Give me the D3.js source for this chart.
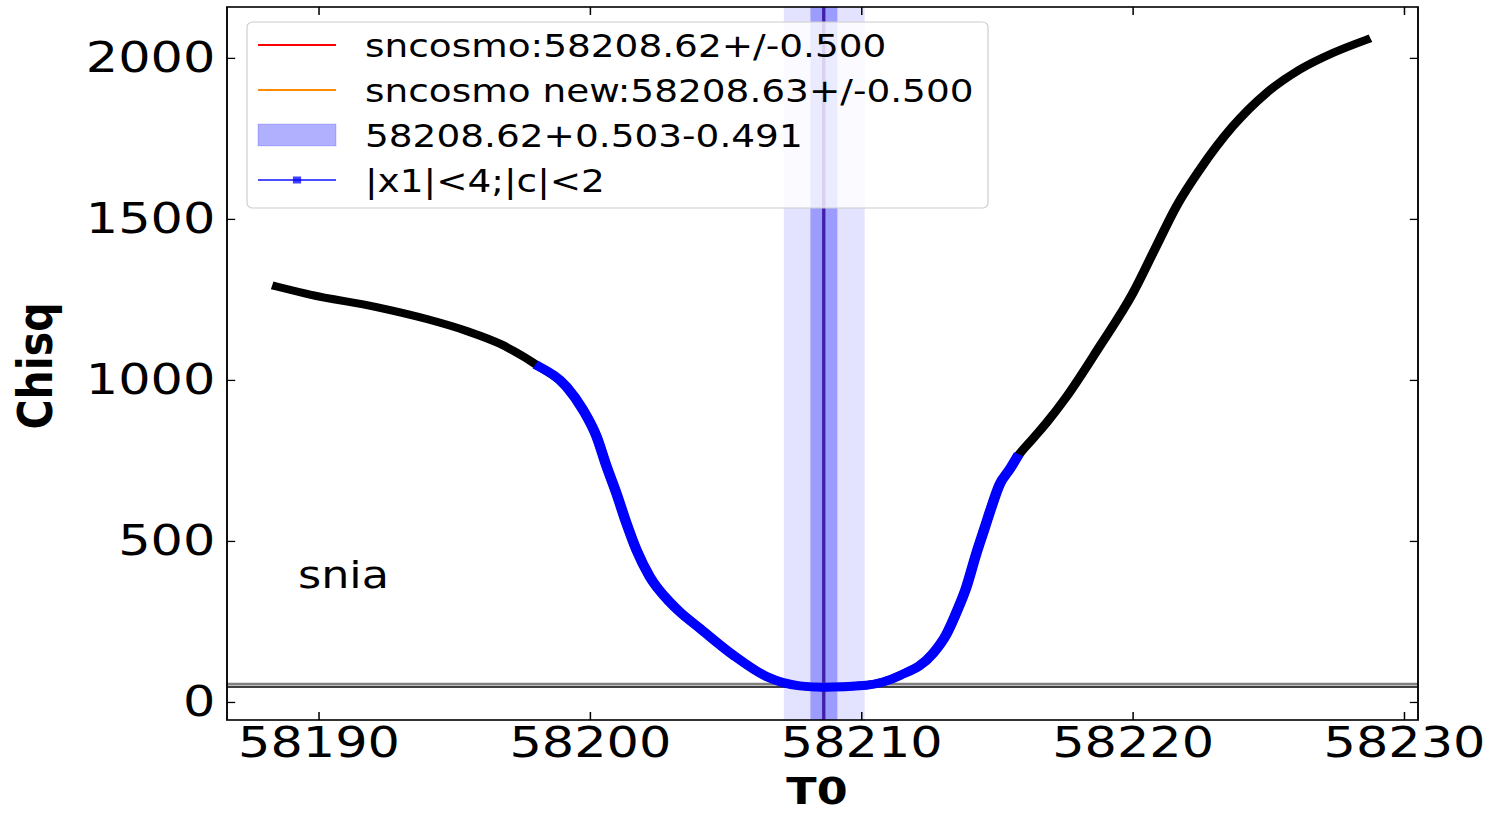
<!DOCTYPE html>
<html>
<head>
<meta charset="utf-8">
<script src="https://cdn.jsdelivr.net/npm/d3@7"></script>
<style>
  html, body { margin: 0; padding: 0; background: #fff; }
  svg text { font-family: "DejaVu Sans", sans-serif; }
</style>
</head>
<body>
<div class="canvas"></div>
<script>
// chisq scan values
const t0Values = [58188.46, 58189.69, 58192.14, 58193.99, 58195.46, 58196.69, 58198.16,
    58199.14, 58199.75, 58200.25, 58200.62, 58200.98, 58201.35, 58201.72, 58202.21,
    58202.95, 58203.31, 58204.05, 58205.28, 58206.51, 58207.73, 58208.59, 58210.19,
    58211.42, 58212.64, 58213.14, 58213.57, 58213.87, 58214.24, 58214.55, 58214.80,
    58215.10, 58215.47, 58215.72, 58216.33, 58216.82, 58217.56, 58218.78, 58220.01,
    58220.87, 58221.61, 58222.47, 58223.69, 58224.92, 58226.15, 58227.38, 58228.61];
const chisqValues = [1290, 1265, 1226, 1189, 1152, 1112, 1040,
    979, 907, 824, 731, 648, 555, 472, 389,
    310, 280, 229, 146, 79, 50, 46, 52,
    82, 150, 210, 290, 355, 460, 540, 605,
    675, 722, 757, 818, 866, 947, 1103, 1269,
    1414, 1538, 1652, 1787, 1890, 1963, 2015, 2056];

// points passing |x1|<4;|c|<2 lie in this T0 window
const cutWindow = [58198.16, 58215.72];

// fit results
const sncosmoT0 = 58208.62;
const sncosmoNewT0 = 58208.63;
const bandCenter = 58208.62;
const bandInner = [58208.129, 58209.123];
const bandOuter = [58207.15, 58210.13];
const chisqLines = [55.5, 46.5];

const xTicks = [58190, 58200, 58210, 58220, 58230];
const yTicks = [0, 500, 1000, 1500, 2000];

const legendLabels = ['sncosmo:58208.62+/-0.500', 'sncosmo new:58208.63+/-0.500',
    '58208.62+0.503-0.491', '|x1|<4;|c|<2'];

// whole figure is drawn a bit wider than tall
const SX = 1.17;
const dims = { width: 1493, height: 813 };
const frame = { left: 227 / SX, right: 1418 / SX, top: 7, bottom: 720 };

const svg = d3.select('.canvas')
    .append('svg')
    .attr('width', dims.width)
    .attr('height', dims.height);

const fig = svg.append('g')
    .attr('transform', `scale(${SX},1)`);

const x = d3.scaleLinear()
    .domain([58186.63, 58230.52])
    .range([frame.left, frame.right]);

const y = d3.scaleLinear()
    .domain([-56, 2158])
    .range([frame.bottom, frame.top]);

// fit lines
fig.append('line')
    .attr('x1', x(sncosmoT0)).attr('x2', x(sncosmoT0))
    .attr('y1', frame.top).attr('y2', frame.bottom)
    .attr('stroke', 'red').attr('stroke-width', 1.5);
fig.append('line')
    .attr('x1', x(sncosmoNewT0)).attr('x2', x(sncosmoNewT0))
    .attr('y1', frame.top).attr('y2', frame.bottom)
    .attr('stroke', 'darkorange').attr('stroke-width', 1.5);

// bands
fig.append('rect')
    .attr('x', x(bandOuter[0])).attr('width', x(bandOuter[1]) - x(bandOuter[0]))
    .attr('y', frame.top).attr('height', frame.bottom - frame.top)
    .attr('fill', 'blue').attr('fill-opacity', 0.11);
fig.append('rect')
    .attr('x', x(bandInner[0])).attr('width', x(bandInner[1]) - x(bandInner[0]))
    .attr('y', frame.top).attr('height', frame.bottom - frame.top)
    .attr('fill', 'blue').attr('fill-opacity', 0.31);
fig.append('line')
    .attr('x1', x(bandCenter)).attr('x2', x(bandCenter))
    .attr('y1', frame.top).attr('y2', frame.bottom)
    .attr('stroke', '#2a0fb0').attr('stroke-opacity', 0.75).attr('stroke-width', 3);

// horizontal chisq lines
fig.append('line')
    .attr('x1', frame.left).attr('x2', frame.right)
    .attr('y1', y(chisqLines[0])).attr('y2', y(chisqLines[0]))
    .attr('stroke', 'grey').attr('stroke-width', 2.7);
fig.append('line')
    .attr('x1', frame.left).attr('x2', frame.right)
    .attr('y1', y(chisqLines[1])).attr('y2', y(chisqLines[1]))
    .attr('stroke', 'black').attr('stroke-width', 1.6);

// scan curve
const points = t0Values.map((t, i) => ({ t, chi: chisqValues[i] }));
const cutPoints = points.filter(d => d.t >= cutWindow[0] && d.t <= cutWindow[1]);

const line = d3.line()
    .x(d => x(d.t))
    .y(d => y(d.chi))
    .curve(d3.curveMonotoneX);

fig.append('path')
    .attr('d', line(points))
    .attr('fill', 'none')
    .attr('stroke', 'black')
    .attr('stroke-width', 8)
    .attr('stroke-linecap', 'square')
    .attr('stroke-linejoin', 'round');

fig.append('path')
    .attr('d', line(cutPoints))
    .attr('fill', 'none')
    .attr('stroke', 'blue')
    .attr('stroke-width', 9)
    .attr('stroke-linecap', 'square')
    .attr('stroke-linejoin', 'round');

// axes (ticks pointing in, on all four sides)
const fmt = d3.format('d');
const bottomAxis = d3.axisBottom(x).tickValues(xTicks).tickFormat(fmt).tickSizeInner(-8).tickSizeOuter(0).tickPadding(6.5);
const leftAxis = d3.axisLeft(y).tickValues(yTicks).tickFormat(fmt).tickSizeInner(-7).tickSizeOuter(0).tickPadding(10);
const topAxis = d3.axisTop(x).tickValues(xTicks).tickSizeInner(-8).tickSizeOuter(0).tickFormat('');
const rightAxis = d3.axisRight(y).tickValues(yTicks).tickSizeInner(-7).tickSizeOuter(0).tickFormat('');

const styleAxis = g => {
    g.select('.domain').remove();
    g.selectAll('line').attr('stroke', 'black').attr('stroke-width', 1.3);
    g.selectAll('text').attr('fill', 'black').style('font-size', '43.5px');
};

fig.append('g').attr('transform', `translate(0,${frame.bottom})`).call(bottomAxis).call(styleAxis);
fig.append('g').attr('transform', `translate(${frame.left},0)`).call(leftAxis).call(styleAxis);
fig.append('g').attr('transform', `translate(0,${frame.top})`).call(topAxis).call(styleAxis);
fig.append('g').attr('transform', `translate(${frame.right},0)`).call(rightAxis).call(styleAxis);

fig.append('rect')
    .attr('x', frame.left).attr('y', frame.top)
    .attr('width', frame.right - frame.left).attr('height', frame.bottom - frame.top)
    .attr('fill', 'none').attr('stroke', 'black').attr('stroke-width', 1.6);

// axis labels
fig.append('text')
    .attr('x', 817 / SX).attr('y', 804)
    .attr('text-anchor', 'middle')
    .style('font-size', '38px').style('font-weight', 'bold')
    .text('T0');

fig.append('text')
    .attr('transform', `translate(${52 / SX},366) rotate(-90)`)
    .attr('text-anchor', 'middle')
    .style('font-size', '41px').style('font-weight', 'bold')
    .text('Chisq');

fig.append('text')
    .attr('x', 298 / SX).attr('y', 588)
    .style('font-size', '38px')
    .text('snia');

// legend
const legendGroup = fig.append('g');
legendGroup.append('rect')
    .attr('x', 247 / SX).attr('y', 22)
    .attr('width', (988 - 247) / SX).attr('height', 186)
    .attr('rx', 5)
    .attr('fill', 'white').attr('fill-opacity', 0.8)
    .attr('stroke', '#cccccc').attr('stroke-width', 1);

const rowY = [45, 90, 135, 180];
const hx0 = 258 / SX, hx1 = 336 / SX;

legendGroup.append('line')
    .attr('x1', hx0).attr('x2', hx1).attr('y1', rowY[0]).attr('y2', rowY[0])
    .attr('stroke', 'red').attr('stroke-width', 2);
legendGroup.append('line')
    .attr('x1', hx0).attr('x2', hx1).attr('y1', rowY[1]).attr('y2', rowY[1])
    .attr('stroke', 'darkorange').attr('stroke-width', 2);
legendGroup.append('rect')
    .attr('x', hx0).attr('y', rowY[2] - 11)
    .attr('width', hx1 - hx0).attr('height', 22)
    .attr('fill', 'blue').attr('fill-opacity', 0.31)
    .attr('stroke', 'blue').attr('stroke-opacity', 0.15);
legendGroup.append('line')
    .attr('x1', hx0).attr('x2', hx1).attr('y1', rowY[3]).attr('y2', rowY[3])
    .attr('stroke', 'blue').attr('stroke-opacity', 0.7).attr('stroke-width', 2);
legendGroup.append('rect')
    .attr('x', (hx0 + hx1) / 2 - 3.5).attr('y', rowY[3] - 3.5)
    .attr('width', 7).attr('height', 7)
    .attr('fill', 'blue').attr('fill-opacity', 0.75);

legendGroup.selectAll('text.label')
    .data(legendLabels)
    .enter()
    .append('text')
    .attr('class', 'label')
    .attr('x', 365 / SX)
    .attr('y', (d, i) => rowY[i])
    .attr('dy', '0.36em')
    .style('font-size', '32px')
    .attr('fill', 'black')
    .text(d => d);
</script>
</body>
</html>
